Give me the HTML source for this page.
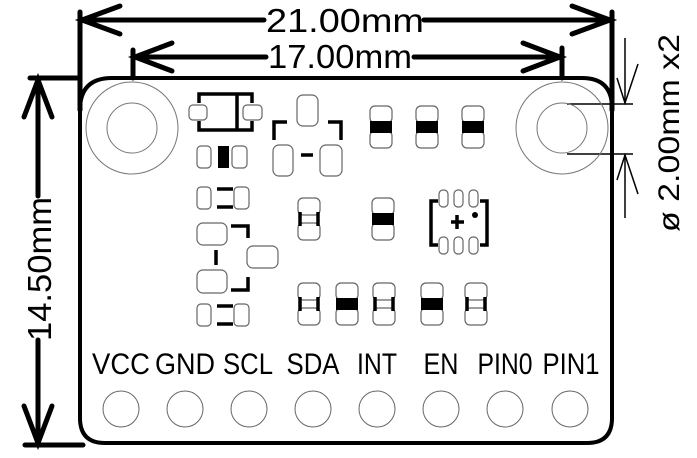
<!DOCTYPE html>
<html><head><style>
html,body{margin:0;padding:0;background:#fff;}
svg{display:block;}
text{font-family:"Liberation Sans",Arial,sans-serif;fill:#000;}
</style></head><body>
<svg width="697" height="458" viewBox="0 0 697 458" xmlns="http://www.w3.org/2000/svg">
<defs>
<g id="vr">
<rect x="-11" y="-21" width="22" height="17" rx="5" fill="#fff" stroke="#666" stroke-width="1.2"/>
<rect x="-11" y="4" width="22" height="17" rx="5" fill="#fff" stroke="#666" stroke-width="1.2"/>
</g>
</defs>
<path d="M80 110 Q80 78 112 78 L582 78 Q612 78 612 108 L612 418 Q612 443 587 443 L105 443 Q80 443 80 418 Z" fill="none" stroke="#000" stroke-width="4"/>
<g stroke="#000" stroke-width="5" fill="none" stroke-linecap="round">
<line x1="80" y1="12" x2="80" y2="110"/>
<line x1="612" y1="12" x2="612" y2="110"/>
<line x1="80" y1="20" x2="264" y2="20"/>
<line x1="424" y1="20" x2="612" y2="20"/>
<polyline points="120,6 82,20 120,34"/>
<polyline points="572,6 610,20 572,34"/>
<line x1="133" y1="50" x2="133" y2="78"/>
<line x1="562" y1="48" x2="562" y2="78"/>
<line x1="133" y1="57" x2="266" y2="57"/>
<line x1="414" y1="57" x2="562" y2="57"/>
<polyline points="172,43 135,57 172,71"/>
<polyline points="523,43 560,57 523,71"/>
<line x1="30" y1="78" x2="80" y2="78"/>
<line x1="25" y1="445" x2="83" y2="445"/>
<line x1="38" y1="80" x2="38" y2="196"/>
<line x1="38" y1="340" x2="38" y2="443"/>
<polyline points="24,117 38,80 52,117"/>
<polyline points="24,406 38,443 52,406"/>
</g>
<text x="345" y="32" font-size="33" text-anchor="middle" textLength="158" lengthAdjust="spacingAndGlyphs">21.00mm</text>
<text x="340" y="68" font-size="33" text-anchor="middle" textLength="144" lengthAdjust="spacingAndGlyphs">17.00mm</text>
<text transform="translate(51,269) rotate(-90)" font-size="33" text-anchor="middle" textLength="144" lengthAdjust="spacingAndGlyphs">14.50mm</text>
<g stroke="#000" stroke-width="1.5" fill="none">
<line x1="567" y1="104" x2="633" y2="104"/>
<line x1="567" y1="154" x2="633" y2="154"/>
<line x1="625" y1="38" x2="625" y2="103"/>
<line x1="625" y1="155" x2="625" y2="218"/>
<polyline points="617,78 625,103 638,64"/>
<polyline points="617,180 625,155 638,194"/>
</g>
<text transform="translate(679,133) rotate(-90)" font-size="30" text-anchor="middle" textLength="198" lengthAdjust="spacingAndGlyphs">ø 2.00mm x2</text>
<g fill="none" stroke="#777" stroke-width="1">
<circle cx="132" cy="128" r="46"/><circle cx="132" cy="128" r="25"/>
<circle cx="562" cy="128" r="46"/><circle cx="562" cy="128" r="25"/>
</g>
<g stroke="#000" stroke-width="3.5" fill="none">
<polyline points="199,103 199,94 252,94 252,103"/>
<polyline points="199,121 199,130 252,130 252,121"/>
<line x1="237" y1="94" x2="237" y2="130"/>
</g>
<g fill="#fff" stroke="#666" stroke-width="1.2">
<rect x="189" y="105" width="18" height="15" rx="4"/>
<rect x="243" y="105" width="19" height="15" rx="4"/>
<rect x="197" y="146" width="14" height="22" rx="4"/>
<rect x="232" y="146" width="15" height="22" rx="4"/>
<rect x="197" y="187" width="14" height="22" rx="4"/>
<rect x="234" y="187" width="15" height="22" rx="4"/>
<rect x="197" y="304" width="14" height="22" rx="4"/>
<rect x="234" y="304" width="15" height="22" rx="4"/>
<rect x="297" y="95" width="21" height="31" rx="6"/>
<rect x="273" y="145" width="20" height="31" rx="6"/>
<rect x="320" y="145" width="22" height="31" rx="6"/>
<rect x="197" y="223" width="30" height="22" rx="6"/>
<rect x="247" y="246" width="31" height="22" rx="6"/>
<rect x="197" y="270" width="30" height="23" rx="6"/>
<rect x="439" y="190" width="9" height="17" rx="4"/>
<rect x="454" y="190" width="9" height="17" rx="4"/>
<rect x="469" y="190" width="9" height="17" rx="4"/>
<rect x="439" y="237" width="9" height="17" rx="4"/>
<rect x="454" y="237" width="9" height="17" rx="4"/>
<rect x="469" y="237" width="9" height="17" rx="4"/>
</g>
<rect x="218" y="146" width="11" height="22" fill="#000"/>
<g stroke="#000" stroke-width="3.5" fill="none">
<line x1="217" y1="189" x2="233" y2="189"/><line x1="217" y1="207" x2="233" y2="207"/>
<line x1="217" y1="306" x2="233" y2="306"/><line x1="217" y1="324" x2="233" y2="324"/>
<polyline points="274,140 274,122 287,122"/>
<polyline points="341,140 341,122 328,122"/>
<line x1="301" y1="155" x2="313" y2="155"/>
<polyline points="231,226 248,226 248,238"/>
<polyline points="231,290 248,290 248,277"/>
<line x1="216" y1="250" x2="216" y2="265"/>
<polyline points="438,201 431,201 431,245 438,245"/>
<polyline points="480,201 487,201 487,245 480,245"/>
<line x1="451" y1="222" x2="464" y2="222"/><line x1="457" y1="215" x2="457" y2="229"/>
</g>
<circle cx="475" cy="215" r="3" fill="#000"/>
<g>
<use href="#vr" x="381" y="127"/><rect x="370" y="121" width="22" height="12" fill="#000"/>
<use href="#vr" x="427" y="127"/><rect x="416" y="121" width="22" height="12" fill="#000"/>
<use href="#vr" x="473" y="127"/><rect x="462" y="121" width="22" height="12" fill="#000"/>
<use href="#vr" x="309" y="219"/>
<use href="#vr" x="383" y="219"/><rect x="372" y="213" width="22" height="12" fill="#000"/>
<use href="#vr" x="309" y="304"/>
<use href="#vr" x="347" y="304"/><rect x="336" y="298" width="22" height="12" fill="#000"/>
<use href="#vr" x="384" y="304"/>
<use href="#vr" x="432" y="304"/><rect x="421" y="298" width="22" height="12" fill="#000"/>
<use href="#vr" x="476" y="304"/>
</g>
<g stroke="#000" stroke-width="3.5">
<line x1="300" y1="212" x2="300" y2="226"/><line x1="318" y1="212" x2="318" y2="226"/>
<line x1="300" y1="297" x2="300" y2="311"/><line x1="318" y1="297" x2="318" y2="311"/>
<line x1="375" y1="297" x2="375" y2="311"/><line x1="393" y1="297" x2="393" y2="311"/>
<line x1="467" y1="297" x2="467" y2="311"/><line x1="485" y1="297" x2="485" y2="311"/>
</g>
<g font-size="30" text-anchor="middle">
<text x="121" y="374" textLength="58" lengthAdjust="spacingAndGlyphs">VCC</text>
<text x="185" y="374" textLength="60" lengthAdjust="spacingAndGlyphs">GND</text>
<text x="248" y="374" textLength="50" lengthAdjust="spacingAndGlyphs">SCL</text>
<text x="313" y="374" textLength="53" lengthAdjust="spacingAndGlyphs">SDA</text>
<text x="377" y="374" textLength="40" lengthAdjust="spacingAndGlyphs">INT</text>
<text x="441" y="374" textLength="35" lengthAdjust="spacingAndGlyphs">EN</text>
<text x="505" y="374" textLength="55" lengthAdjust="spacingAndGlyphs">PIN0</text>
<text x="571" y="374" textLength="57" lengthAdjust="spacingAndGlyphs">PIN1</text>
</g>
<g fill="none" stroke="#666" stroke-width="1">
<circle cx="121" cy="409" r="18"/><circle cx="185" cy="409" r="18"/><circle cx="249" cy="409" r="18"/>
<circle cx="313" cy="409" r="18"/><circle cx="377" cy="409" r="18"/><circle cx="441" cy="409" r="18"/>
<circle cx="505" cy="409" r="18"/><circle cx="570" cy="409" r="18"/>
</g>
</svg>
</body></html>
